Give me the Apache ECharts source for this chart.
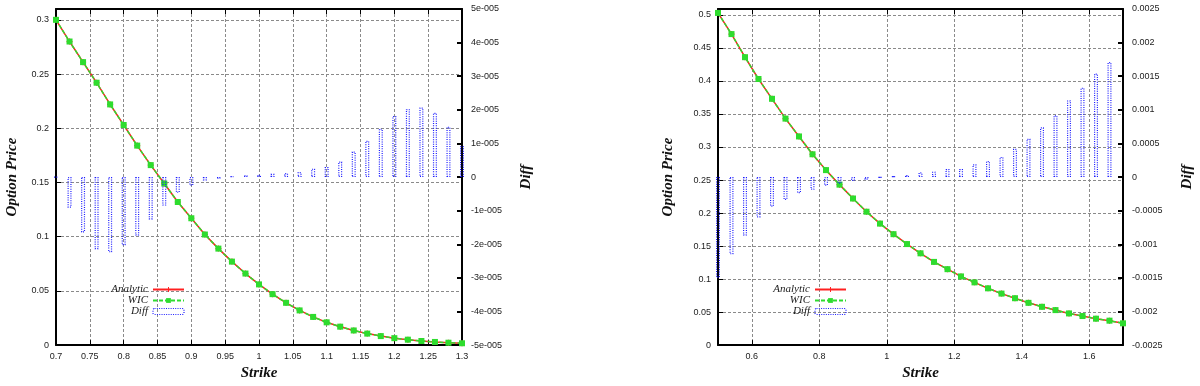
<!DOCTYPE html>
<html>
<head>
<meta charset="utf-8">
<script src="https://cdn.jsdelivr.net/npm/echarts@6/dist/echarts.min.js"></script>
<style>
html, body { margin: 0; padding: 0; background: #fff; }
#chart { width: 1200px; height: 386px; }
</style>
</head>
<body>
<div id="chart"></div>
<script>
// left panel
var strikeL = [0.70,0.72,0.74,0.76,0.78,0.80,0.82,0.84,0.86,0.88,0.90,0.92,0.94,0.96,0.98,1.00,
               1.02,1.04,1.06,1.08,1.10,1.12,1.14,1.16,1.18,1.20,1.22,1.24,1.26,1.28,1.30];
var analyticL = [0.300,0.280,0.261,0.242,0.222,0.203,0.184,0.166,0.149,0.132,0.117,0.102,0.089,0.077,0.066,0.056,
                 0.047,0.039,0.032,0.026,0.021,0.017,0.0135,0.0106,0.0083,0.0064,0.0050,0.0038,0.0029,0.0022,0.0017];
var wicL = [0.300,0.280,0.261,0.242,0.222,0.203,0.184,0.166,0.149,0.132,0.117,0.102,0.089,0.077,0.066,0.056,
            0.047,0.039,0.032,0.026,0.021,0.017,0.0135,0.0106,0.0083,0.0064,0.0050,0.0038,0.0029,0.0022,0.0017];
var diffL = [0.0e-5,-0.91e-5,-1.65e-5,-2.15e-5,-2.24e-5,-2.03e-5,-1.74e-5,-1.26e-5,-0.85e-5,-0.47e-5,-0.26e-5,-0.1e-5,-0.05e-5,0.03e-5,0.05e-5,0.07e-5,
             0.1e-5,0.12e-5,0.15e-5,0.25e-5,0.3e-5,0.46e-5,0.76e-5,1.08e-5,1.44e-5,1.82e-5,2.02e-5,2.07e-5,1.91e-5,1.5e-5,0.92e-5];

// right panel
var strikeR = [0.50,0.54,0.58,0.62,0.66,0.70,0.74,0.78,0.82,0.86,0.90,0.94,0.98,1.02,1.06,1.10,
               1.14,1.18,1.22,1.26,1.30,1.34,1.38,1.42,1.46,1.50,1.54,1.58,1.62,1.66,1.70];
var analyticR = [0.503,0.471,0.436,0.403,0.373,0.343,0.316,0.289,0.265,0.243,0.222,0.202,0.184,0.168,0.153,0.139,
                 0.126,0.115,0.104,0.095,0.086,0.078,0.071,0.064,0.058,0.053,0.048,0.044,0.040,0.037,0.033];
var wicR = [0.503,0.471,0.436,0.403,0.373,0.343,0.316,0.289,0.265,0.243,0.222,0.202,0.184,0.168,0.153,0.139,
            0.126,0.115,0.104,0.095,0.086,0.078,0.071,0.064,0.058,0.053,0.048,0.044,0.040,0.037,0.033];
var diffR = [-0.0015,-0.00115,-0.00087,-0.0006,-0.00044,-0.00034,-0.00024,-0.00019,-0.00013,-0.0001,-0.00006,-0.00004,-0.00001,0.00001,0.00003,0.00007,
             0.00008,0.00012,0.00012,0.00019,0.00024,0.0003,0.00042,0.00057,0.00074,0.00092,0.00114,0.00133,0.00154,0.00171,null];
var xTicksR = [0.6, 0.8, 1.0, 1.2, 1.4, 1.6];

var chart = echarts.init(document.getElementById('chart'));

function pairs(xs, ys) {
    return xs.map(function (x, i) { return [x, ys[i]]; });
}

var labelFont = { fontFamily: 'Liberation Sans', fontSize: 9, color: '#222' };
var nameFont = { fontFamily: 'Liberation Serif', fontStyle: 'italic', fontWeight: 'bold', fontSize: 15, color: '#111' };
var frame = { show: true, onZero: false, lineStyle: { color: '#000', width: 2 } };
var grid = { show: true, lineStyle: { color: '#8a8a8a', width: 1, type: [3, 2] } };
var plus = 'path://M4,0L6,0L6,4L10,4L10,6L6,6L6,10L4,10L4,6L0,6L0,4L4,4Z';
var blue = '#1e1eff';

function bottomX(gi, min, max, interval, ticks) {
    var ax = {
        type: 'value', gridIndex: gi, position: 'bottom', min: min, max: max,
        name: 'Strike', nameLocation: 'middle', nameGap: 20, nameTextStyle: nameFont,
        axisLine: frame, axisTick: { show: true, inside: true, length: 5, lineStyle: { color: '#000' } },
        axisLabel: Object.assign({ margin: 7 }, labelFont),
        splitLine: grid
    };
    if (ticks) {
        ax.axisLabel.customValues = ticks;
        ax.axisTick.customValues = ticks;
    } else {
        ax.interval = interval;
    }
    return ax;
}
function topX(gi, min, max, interval, ticks) {
    var ax = {
        type: 'value', gridIndex: gi, position: 'top', min: min, max: max,
        axisLine: frame, axisTick: { show: true, inside: true, length: 5, lineStyle: { color: '#000' } },
        axisLabel: { show: false }, splitLine: { show: false }
    };
    if (ticks) ax.axisTick.customValues = ticks; else ax.interval = interval;
    return ax;
}
function leftY(gi, max, top) {
    return {
        type: 'value', gridIndex: gi, position: 'left', min: 0, max: max, interval: 0.05,
        name: 'Option Price', nameLocation: 'middle', nameGap: gi === 0 ? 36 : 42, nameTextStyle: nameFont,
        axisLine: frame, axisTick: { show: true, inside: true, length: 5, lineStyle: { color: '#000' } },
        axisLabel: Object.assign({
            margin: 7,
            formatter: function (v) { return v > top + 1e-9 ? '' : String(+v.toFixed(2)); }
        }, labelFont),
        splitLine: grid
    };
}
function rightY(gi, lim, step, fmt, gap) {
    return {
        type: 'value', gridIndex: gi, position: 'right', min: -lim, max: lim, interval: step,
        name: 'Diff', nameLocation: 'middle', nameGap: gap, nameRotate: 90, nameTextStyle: nameFont,
        axisLine: frame, axisTick: { show: true, inside: true, length: 5, lineStyle: { color: '#000', width: 2 } },
        axisLabel: Object.assign({ margin: 9, formatter: fmt }, labelFont),
        splitLine: { show: false }
    };
}

function lineSeries(name, xi, yi, data, color, dashed, symbol) {
    return {
        name: name, type: 'line', xAxisIndex: xi, yAxisIndex: yi, data: data,
        symbol: symbol, symbolSize: 6, showSymbol: true,
        color: color, itemStyle: { color: color },
        lineStyle: { color: color, width: 1.5, type: dashed ? [4, 2] : 'solid' },
        animation: false, z: dashed ? 4 : 3
    };
}
function diffSeries(xi, yi, data) {
    return {
        name: 'Diff', type: 'bar', xAxisIndex: xi, yAxisIndex: yi, data: data,
        barWidth: 4, color: blue,
        itemStyle: { color: 'rgba(0,0,0,0)', borderColor: blue, borderWidth: 1.2, borderType: [1, 1.3] },
        animation: false, z: 5
    };
}

function legend(right) {
    return {
        orient: 'vertical', align: 'right', right: right, top: 284, padding: 0,
        itemWidth: 31, itemHeight: 6, itemGap: 0,
        data: ['Analytic', 'WIC',
            { name: 'Diff', itemStyle: { color: 'rgba(0,0,0,0)', borderColor: blue, borderWidth: 1.2, borderType: [1, 1.3] } }],
        textStyle: { fontFamily: 'Liberation Serif', fontStyle: 'italic', fontSize: 11, color: '#222' }
    };
}

var option = {
    animation: false,
    backgroundColor: '#fff',
    grid: [
        { left: 56, top: 9, width: 406, height: 340 },
        { left: 718, top: 9, width: 405, height: 340 }
    ],
    legend: [legend(1015), legend(353)],
    xAxis: [
        bottomX(0, 0.7, 1.3, 0.05), topX(0, 0.7, 1.3, 0.05),
        bottomX(1, 0.5, 1.7, null, xTicksR), topX(1, 0.5, 1.7, null, xTicksR)
    ],
    yAxis: [
        leftY(0, 0.31, 0.3),
        rightY(0, 5e-5, 1e-5, function (v) {
            var n = Math.round(v / 1e-5);
            return n === 0 ? '0' : n + 'e-005';
        }, 57),
        leftY(1, 0.509, 0.5),
        rightY(1, 0.0025, 0.0005, function (v) {
            var s = +v.toFixed(4);
            return s === 0 ? '0' : String(s);
        }, 57)
    ],
    series: [
        lineSeries('Analytic', 0, 0, pairs(strikeL, analyticL), '#ff2020', false, plus),
        lineSeries('WIC', 0, 0, pairs(strikeL, wicL), '#2edc2e', true, 'rect'),
        diffSeries(0, 1, pairs(strikeL, diffL)),
        lineSeries('Analytic', 2, 2, pairs(strikeR, analyticR), '#ff2020', false, plus),
        lineSeries('WIC', 2, 2, pairs(strikeR, wicR), '#2edc2e', true, 'rect'),
        diffSeries(2, 3, pairs(strikeR, diffR))
    ]
};
chart.setOption(option);
</script>
</body>
</html>
